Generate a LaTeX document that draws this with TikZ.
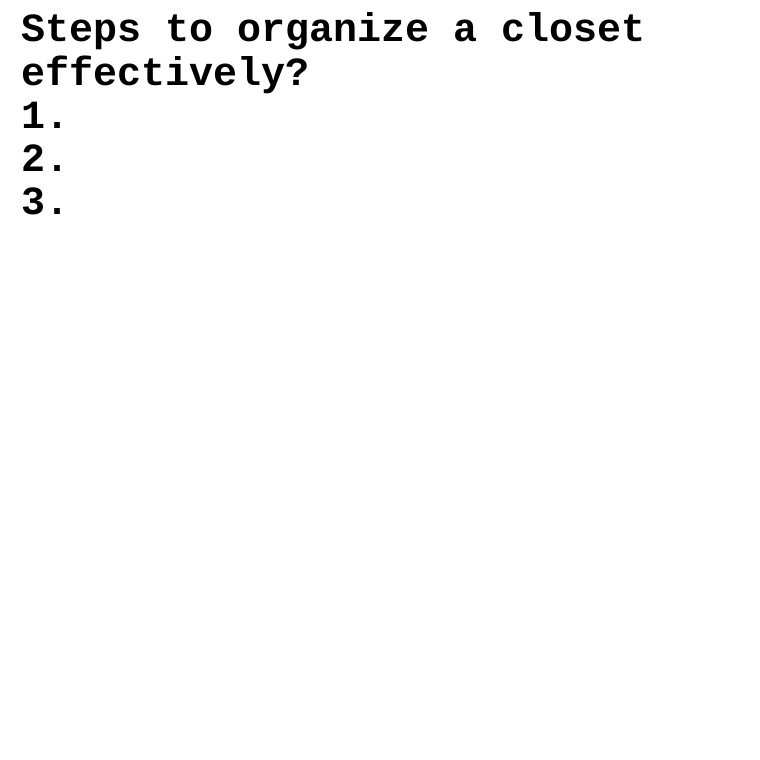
\documentclass[tikz,border=0pt]{standalone}
\usepackage{fontspec}
\setmonofont{Liberation Mono}
\tikzset{line/.style={anchor=base west, inner sep=0pt, font=\fontsize{40}{43}\ttfamily\bfseries}}
\begin{document}
\begin{tikzpicture}[x=1pt,y=1pt]
\useasboundingbox (0,0) rectangle (760,-760);
\fill[white] (0,0) rectangle (760,-760);
\node[line] (l1) at (21,-42) {Steps to organize a closet};
\node[line] (l2) at (21,-85) {effectively?};
\node[line] (l3) at (21,-128) {1.};
\node[line] (l4) at (21,-171) {2.};
\node[line] (l5) at (21,-214) {3.};
\end{tikzpicture}
\end{document}
